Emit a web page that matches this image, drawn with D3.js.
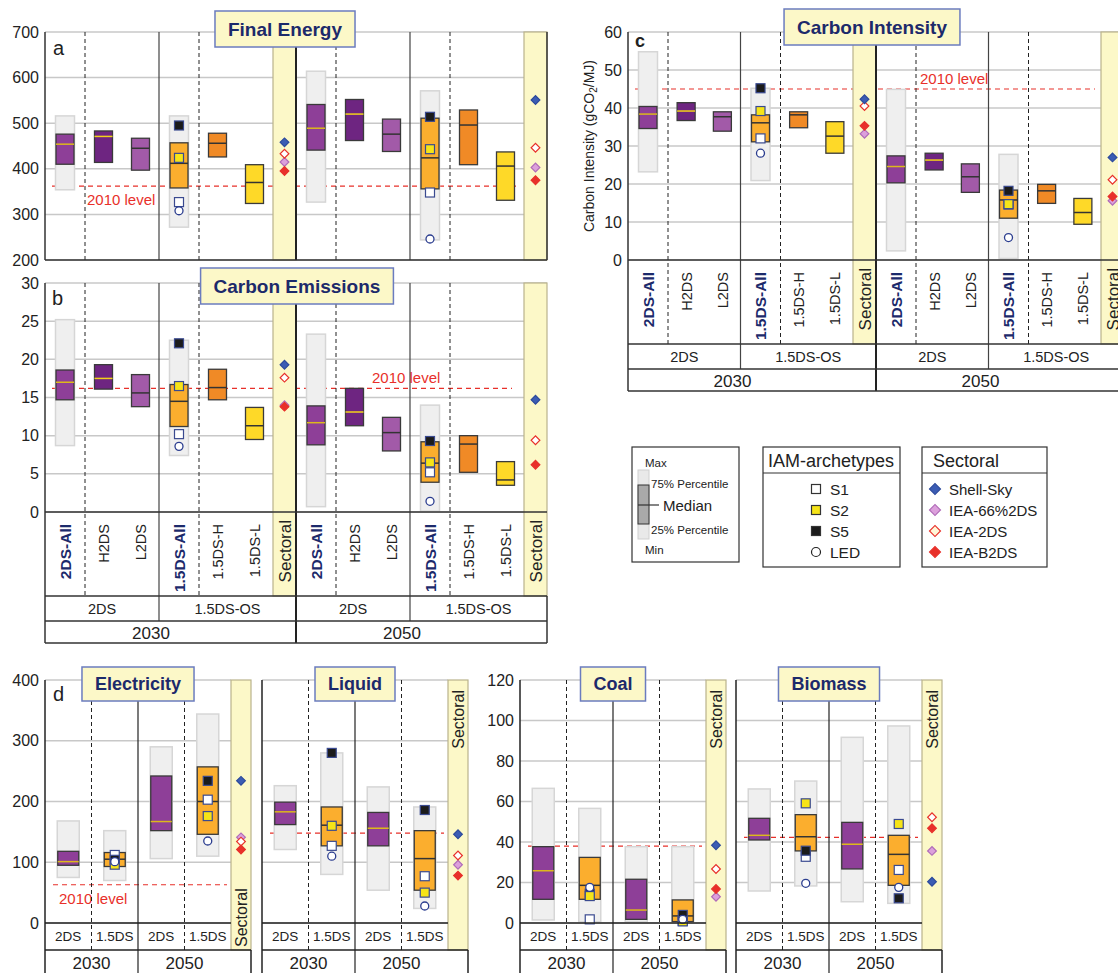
<!DOCTYPE html>
<html>
<head>
<meta charset="utf-8">
<script src="https://cdn.jsdelivr.net/npm/d3@7"></script>
<style>
body { margin: 0; background: #fff; }
svg text { font-family: "Liberation Sans", Arial, sans-serif; fill: #222; }
</style>
</head>
<body>
<svg id="chart" width="1118" height="973"></svg>
<script>
// ---- data ----
var scenarios = ["2DS-All", "H2DS", "L2DS", "1.5DS-All", "1.5DS-H", "1.5DS-L"];
var groups = ["2DS", "1.5DS-OS"];
var years = ["2030", "2050"];
var archetypes = ["S1", "S2", "S5", "LED"];
var sectorals = ["Shell-Sky", "IEA-66%2DS", "IEA-2DS", "IEA-B2DS"];
var fuelCols = ["2DS", "1.5DS"];

// rows: [min, 25%, median, 75%, max] (null = no range shown)
var energy2030 = [[354, 410, 454, 476, 516], [null, 414, 471, 483, null], [null, 397, 445, 467, null],
                  [272, 358, 412, 457, 516], [null, 426, 456, 478, null], [null, 324, 370, 409, null]];
var energy2050 = [[327, 441, 489, 541, 614], [null, 462, 520, 552, null], [null, 438, 476, 509, null],
                  [244, 356, 424, 511, 571], [null, 409, 496, 529, null], [null, 331, 406, 437, null]];
var energyArch = [[327, 424, 495, 308], [348, 443, 514, 246]];   // S1, S2, S5, LED
var energySect = [[458, 415, 433, 395], [551, 403, 446, 375]];   // Shell, 66%2DS, 2DS, B2DS
var energyLevel = 362;

var emis2030 = [[8.7, 14.7, 17.0, 18.6, 25.2], [null, 16.1, 17.5, 19.3, null], [null, 13.8, 15.6, 18.0, null],
                [7.4, 11.2, 14.5, 16.7, 22.5], [null, 14.7, 16.3, 18.7, null], [null, 9.5, 11.3, 13.7, null]];
var emis2050 = [[0.7, 8.8, 11.7, 13.9, 23.3], [null, 11.3, 13.1, 16.2, null], [null, 8.0, 10.4, 12.4, null],
                [0.1, 3.9, 6.4, 9.2, 14.0], [null, 5.2, 8.9, 10.0, null], [null, 3.5, 4.2, 6.6, null]];
var emisArch = [[10.2, 16.5, 22.1, 8.6], [5.2, 6.5, 9.3, 1.4]];
var emisSect = [[19.3, 14.0, 17.6, 13.8], [14.7, null, 9.4, 6.2]];
var emisLevel = 16.2;

var int2030 = [[23.2, 34.6, 38.4, 40.4, 54.8], [null, 36.7, 39.2, 41.4, null], [null, 33.9, 37.7, 39.0, null],
               [20.9, 31.1, 36.1, 38.2, 45.2], [null, 34.8, 38.2, 39.0, null], [null, 28.1, 32.6, 36.4, null]];
var int2050 = [[2.4, 20.3, 24.6, 27.4, 44.9], [null, 23.7, 26.3, 28.1, null], [null, 17.8, 21.9, 25.3, null],
               [0.4, 11.0, 15.8, 18.4, 27.8], [null, 14.9, 18.2, 19.9, null], [null, 9.4, 12.5, 16.2, null]];
var intArch = [[32.0, 39.2, 45.2, 28.1], [14.6, 14.7, 18.2, 5.9]];
var intSect = [[42.3, 33.2, 40.5, 35.3], [27.0, 15.6, 21.1, 16.7]];
var intLevel = 45;

// panel d: per year [2DS, 1.5DS]
var elecStats = [[[75, 95, 101, 118, 168], [70, 93, 105, 116, 152]], [[106, 152, 167, 242, 290], [110, 146, 200, 257, 344]]];
var elecArch = [[112, 96, 104, 101], [203, 176, 234, 135]];
var elecSect = [234, 141, 134, 121];
var elecLevel = 63;

var liqStats = [[[121, 162, 183, 199, 226], [80, 127, 161, 191, 280]], [[54, 127, 156, 182, 224], [24, 54, 106, 152, 191]]];
var liqArch = [[127, 160, 280, 110], [77, 50, 186, 28]];
var liqSect = [146, 96, 111, 78];
var liqLevel = 148;

var coalStats = [[[1.5, 11.7, 25.8, 37.7, 66.5], [0.5, 11.7, 18.6, 32.4, 56.6]], [[0.5, 1.8, 6.4, 21.6, 37.7], [0, 0.7, 3.5, 11.4, 37.7]]];
var coalArch = [[1.8, 13.3, 14.5, 17.6], [1.0, 0.8, 4.0, 1.8]];
var coalSect = [38.4, 13, 26.7, 16.8];
var coalLevel = 38;

var bioStats = [[[15.8, 41, 43.3, 51.7, 66.2], [18.3, 35.6, 42.6, 53.5, 70.1]], [[10.5, 26.7, 38.9, 49.7, 91.7], [9.7, 18.6, 33.9, 43.3, 97.3]]];
var bioArch = [[32.7, 59.1, 35.7, 19.6], [26.2, 48.9, 12.2, 17.6]];
var bioSect = [20.4, 35.6, 52.2, 46.8];
var bioLevel = 42.3;

// ---- styles ----
var NAVY = "#1c2a6b";
var RED = "#e8302a";
var YEL = "#dcb81c";
var SECT_W = 23, ALL_W = 40, FUEL_W = 186, SECT_D = 20;

var scenarioFill = d3.scaleOrdinal().domain(scenarios)
    .range(["#8e3f98", "#6e2581", "#a25aa8", "#fbae2e", "#f08a26", "#fed928"]);
var medianStroke = d3.scaleOrdinal().domain(scenarios)
    .range([YEL, "#f2d21a", "#333", "#333", "#333", "#333"]);
var archFill = d3.scaleOrdinal().domain(archetypes).range(["#fff", "#f6e418", "#1b1b1b", "#fff"]);
var sectFill = d3.scaleOrdinal().domain(sectorals).range(["#3b5cb4", "#dca0dc", "#fff", RED]);
var sectStroke = d3.scaleOrdinal().domain(sectorals).range(["#2c4a9c", "#b06cb8", RED, RED]);

var svg = d3.select("#chart");

function vline(g, x, y1, y2, color, w, dash) {
    var l = g.append("line").attr("x1", x).attr("x2", x).attr("y1", y1).attr("y2", y2)
        .attr("stroke", color).attr("stroke-width", w);
    if (dash) l.attr("stroke-dasharray", dash);
    return l;
}
function hline(g, y, x1, x2, color, w, dash) {
    var l = g.append("line").attr("x1", x1).attr("x2", x2).attr("y1", y).attr("y2", y)
        .attr("stroke", color).attr("stroke-width", w);
    if (dash) l.attr("stroke-dasharray", dash);
    return l;
}

function drawBox(g, y, cx, w, d, fill, med) {
    if (d[0] != null) {
        g.append("rect").attr("x", cx - w / 2 - 0.5).attr("width", w + 1)
            .attr("y", y(d[4])).attr("height", y(d[0]) - y(d[4]))
            .attr("fill", "#efefef").attr("stroke", "#d6d6d6").attr("stroke-width", 1.5);
    }
    g.append("rect").attr("x", cx - w / 2).attr("width", w)
        .attr("y", y(d[3])).attr("height", y(d[1]) - y(d[3]))
        .attr("fill", fill).attr("stroke", "#3a3a3a").attr("stroke-width", 1.3);
    hline(g, y(d[2]), cx - w / 2, cx + w / 2, med, 1.5);
}

function drawArch(g, y, cx, vals) {
    // S1, S5, S2, LED so the circles sit on top
    [0, 2, 1, 3].forEach(function(i) {
        var a = archetypes[i];
        if (a == "LED") {
            g.append("circle").attr("cx", cx).attr("cy", y(vals[i])).attr("r", 4)
                .attr("fill", "#fff").attr("stroke", "#2b3d8f").attr("stroke-width", 1.3);
        } else {
            g.append("rect").attr("x", cx - 4.5).attr("y", y(vals[i]) - 4.5).attr("width", 9).attr("height", 9)
                .attr("fill", archFill(a)).attr("stroke", "#3a4a90").attr("stroke-width", 1.2);
        }
    });
}

var diamond = d3.symbol().type(d3.symbolSquare).size(38);
function drawDiamond(g, x, y, name) {
    g.append("path").attr("d", diamond)
        .attr("transform", "translate(" + x + "," + y + ") rotate(45)")
        .attr("fill", sectFill(name)).attr("stroke", sectStroke(name)).attr("stroke-width", 1.2);
}
function drawSect(g, y, cx, vals) {
    [1, 2, 3, 0].forEach(function(i) {
        if (vals[i] != null) drawDiamond(g, cx, y(vals[i]), sectorals[i]);
    });
}

function titleBox(g, label, cx, top, h, size) {
    var r = g.append("rect");
    var t = g.append("text").attr("x", cx).attr("y", top + h / 2 + size * 0.36)
        .attr("text-anchor", "middle").style("font-size", size + "px").style("font-weight", "bold")
        .style("fill", NAVY).text(label);
    var w = t.node().getComputedTextLength() + 26;
    r.attr("x", cx - w / 2).attr("y", top).attr("width", w).attr("height", h)
        .attr("fill", "#fcf8c8").attr("stroke", "#6b7cbf").attr("stroke-width", 1.5);
}

function yAxis(g, y, x, ticks) {
    var ax = g.append("g").attr("transform", "translate(" + x + ",0)")
        .call(d3.axisLeft(y).tickValues(ticks).tickSize(0).tickPadding(6));
    ax.select(".domain").remove();
    ax.selectAll("text").style("font-size", "16px").style("fill", "#222")
        .style("font-family", "'Liberation Sans', Arial, sans-serif");
}

function blockLayout(x0, x1) {
    var gx = d3.scaleBand().domain(groups).range([x0, x1 - SECT_W]);
    var cols = {}, dashes = [];
    groups.forEach(function(gr, gi) {
        var start = gx(gr);
        var sub = d3.scaleBand().domain(scenarios.slice(gi * 3 + 1, gi * 3 + 3))
            .range([start + ALL_W, start + gx.bandwidth()]);
        cols[scenarios[gi * 3]] = start + ALL_W / 2;
        sub.domain().forEach(function(s) { cols[s] = sub(s) + sub.bandwidth() / 2; });
        dashes.push(start + ALL_W);
    });
    return { x0: x0, x1: x1, gx: gx, cols: cols, dashes: dashes, sect: x1 - SECT_W };
}

function mainPanel(p) {
    var g = svg.append("g");
    var y = p.y, top = y.range()[1], bot = y.range()[0];
    var yearX = d3.scaleBand().domain(years).range([p.x0, p.x1]);
    var blocks = years.map(function(yr) { return blockLayout(yearX(yr), yearX(yr) + yearX.bandwidth()); });
    var labBot = bot + 84, grpBot = labBot + 25, yrBot = grpBot + 22;
    var lineBot = p.labels ? labBot : bot;
    var frameBot = p.labels ? yrBot : bot;

    g.append("g").selectAll("line").data(p.ticks).join("line")
        .attr("x1", p.x0).attr("x2", p.x1)
        .attr("y1", function(d) { return y(d); }).attr("y2", function(d) { return y(d); })
        .attr("stroke", "#c8c8c8").attr("stroke-width", 1.5);

    hline(g, y(p.level), p.x0 + 7, p.levelEnd, RED, 1.2, "5,4");

    blocks.forEach(function(b, yi) {
        b.dashes.forEach(function(dx) { vline(g, dx, top, lineBot, "#222", 1, "4,3"); });
        vline(g, b.gx("1.5DS-OS"), top, p.labels ? grpBot : bot, "#444", 1.2);
        scenarios.forEach(function(s, i) {
            drawBox(g, y, b.cols[s], 18, p.stats[yi][i], scenarioFill(s), medianStroke(s));
        });
        drawArch(g, y, b.cols["1.5DS-All"], p.arch[yi]);

        g.append("rect").attr("x", b.sect).attr("y", top).attr("width", SECT_W).attr("height", lineBot - top)
            .attr("fill", "#fcf8c8").attr("stroke", "#b9b38c").attr("stroke-width", 1.2);
        drawSect(g, y, b.sect + SECT_W / 2, p.sect[yi]);

        if (p.labels) {
            scenarios.forEach(function(s) {
                var bold = s.indexOf("All") > 0;
                g.append("text")
                    .attr("transform", "translate(" + (b.cols[s] + 5.5) + "," + (bot + 12) + ") rotate(-90)")
                    .attr("text-anchor", "end")
                    .style("font-size", bold ? "15.5px" : "14.5px")
                    .style("font-weight", bold ? "bold" : "normal")
                    .style("fill", bold ? NAVY : "#222")
                    .text(s);
            });
            g.append("text")
                .attr("transform", "translate(" + (b.sect + SECT_W / 2 + 6) + "," + (bot + 8) + ") rotate(-90)")
                .attr("text-anchor", "end").style("font-size", "17px").text("Sectoral");
            groups.forEach(function(gr, gi) {
                var gs = b.gx(gr), ge = gi == 0 ? gs + b.gx.bandwidth() : b.x1;
                g.append("text").attr("x", (gs + ge) / 2).attr("y", labBot + 18)
                    .attr("text-anchor", "middle").style("font-size", "14.5px").text(gr);
            });
            g.append("text").attr("x", (b.x0 + b.sect) / 2 - 8).attr("y", grpBot + 18)
                .attr("text-anchor", "middle").style("font-size", "17px").text(years[yi]);
        }
    });

    // label of the 2010 line goes on top of the separators
    g.append("text").attr("x", p.levelText[0]).attr("y", y(p.level) + p.levelText[1])
        .style("fill", RED).style("font-size", "15px").text("2010 level");

    // frame
    vline(g, p.x0, top, frameBot, "#333", 1.5);
    vline(g, blocks[1].x0, top, frameBot, "#222", 2);
    vline(g, p.x1, p.labels ? labBot : top, frameBot, "#333", 1.5);
    hline(g, bot, p.x0, p.x1, "#333", 1.5);
    if (p.labels) {
        hline(g, labBot, p.x0, p.x1, "#333", 1.5);
        hline(g, grpBot, p.x0, p.x1, "#333", 1.5);
        hline(g, yrBot, p.x0, p.x1, "#333", 1.5);
    }

    yAxis(g, y, p.x0, p.ticks);
    g.append("text").attr("x", p.letter[1]).attr("y", p.letter[2])
        .style("font-size", p.letter[3] + "px").style("font-weight", p.letter[4] || "normal").text(p.letter[0]);
    titleBox(g, p.title, p.titleX, p.titleY, 36, 19);
}

function fuelPanel(p) {
    var g = svg.append("g");
    var y = p.y, top = y.range()[1], bot = y.range()[0];
    var labBot = bot + 27, yrBot = labBot + 23;
    var yearX = d3.scaleBand().domain(years).range([p.x0, p.x0 + FUEL_W]);
    var sect = p.x0 + FUEL_W;

    g.append("g").selectAll("line").data(p.ticks).join("line")
        .attr("x1", p.x0).attr("x2", sect)
        .attr("y1", function(d) { return y(d); }).attr("y2", function(d) { return y(d); })
        .attr("stroke", "#c8c8c8").attr("stroke-width", 1.5);

    hline(g, y(p.level), p.x0 + 8, sect - 4, RED, 1.2, "5,4");
    if (p.levelText) {
        g.append("text").attr("x", p.x0 + p.levelText[0]).attr("y", y(p.level) + p.levelText[1])
            .style("fill", RED).style("font-size", "15px").text("2010 level");
    }

    years.forEach(function(yr, yi) {
        var colX = d3.scaleBand().domain(fuelCols).range([yearX(yr), yearX(yr) + yearX.bandwidth()]);
        vline(g, colX("1.5DS"), top, labBot, "#222", 1, "4,3");
        fuelCols.forEach(function(c, ci) {
            var cx = colX(c) + colX.bandwidth() / 2;
            drawBox(g, y, cx, 21, p.stats[yi][ci], c == "2DS" ? "#8e3f98" : "#fbae2e", c == "2DS" ? YEL : "#333");
            g.append("text").attr("x", cx).attr("y", bot + 18).attr("text-anchor", "middle")
                .style("font-size", "13.5px").text(c);
        });
        drawArch(g, y, colX("1.5DS") + colX.bandwidth() / 2, p.arch[yi]);
        g.append("text").attr("x", yearX(yr) + yearX.bandwidth() / 2).attr("y", labBot + 19)
            .attr("text-anchor", "middle").style("font-size", "17px").text(yr);
    });
    vline(g, yearX("2050"), top, yrBot, "#222", 1.2);

    g.append("rect").attr("x", sect).attr("y", top).attr("width", SECT_D).attr("height", labBot - top)
        .attr("fill", "#fcf8c8").attr("stroke", "#b9b38c").attr("stroke-width", 1.2);
    drawSect(g, y, sect + SECT_D / 2, p.sect);
    if (p.sectBottom) {
        g.append("text").attr("transform", "translate(" + (sect + SECT_D / 2 + 6) + "," + (labBot - 3) + ") rotate(-90)")
            .attr("text-anchor", "start").style("font-size", "16px").text("Sectoral");
    } else {
        g.append("text").attr("transform", "translate(" + (sect + SECT_D / 2 + 6) + "," + (top + 10) + ") rotate(-90)")
            .attr("text-anchor", "end").style("font-size", "16px").text("Sectoral");
    }

    vline(g, p.x0, top, yrBot, "#222", 1.5);
    hline(g, bot, p.x0, sect, "#222", 1.5);
    hline(g, labBot, p.x0, sect + SECT_D, "#222", 1.5);
    vline(g, sect + SECT_D, labBot, yrBot, "#222", 1.5);

    if (p.axis) yAxis(g, y, p.x0, p.ticks);
    if (p.letter) {
        g.append("text").attr("x", p.x0 + 8).attr("y", top + 21).style("font-size", "20px").text(p.letter);
    }
    titleBox(g, p.title, yearX("2050"), top - 13, 34, 18);
}

// ---- panels a, b, c ----
mainPanel({
    y: d3.scaleLinear().domain([200, 700]).range([260, 32]), ticks: d3.range(200, 701, 100),
    x0: 45, x1: 547, stats: [energy2030, energy2050], arch: energyArch, sect: energySect,
    level: energyLevel, levelEnd: 520, levelText: [87, 19], labels: false,
    letter: ["a", 53, 55, 20], title: "Final Energy", titleX: 285, titleY: 11
});
mainPanel({
    y: d3.scaleLinear().domain([0, 30]).range([512, 283]), ticks: d3.range(0, 31, 5),
    x0: 45, x1: 547, stats: [emis2030, emis2050], arch: emisArch, sect: emisSect,
    level: emisLevel, levelEnd: 512, levelText: [372, -5], labels: true,
    letter: ["b", 52, 305, 20], title: "Carbon Emissions", titleX: 297, titleY: 268
});
mainPanel({
    y: d3.scaleLinear().domain([0, 60]).range([260, 32]), ticks: d3.range(0, 61, 10),
    x0: 628, x1: 1124, stats: [int2030, int2050], arch: intArch, sect: intSect,
    level: intLevel, levelEnd: 1095, levelText: [920, -5], labels: true,
    letter: ["c", 635, 47, 18, "bold"], title: "Carbon Intensity", titleX: 872, titleY: 9
});
svg.append("text")
    .attr("transform", "translate(594,146) rotate(-90)").attr("text-anchor", "middle")
    .style("font-size", "14px")
    .html("Carbon Intensity (gCO<tspan dy='3' font-size='10px'>2</tspan><tspan dy='-3'>/MJ)</tspan>");

// ---- panel d ----
var yElec = d3.scaleLinear().domain([0, 400]).range([923, 680]);
var yCoal = d3.scaleLinear().domain([0, 120]).range([923, 680]);
fuelPanel({ y: yElec, ticks: d3.range(0, 401, 100), x0: 45, axis: true, letter: "d",
    stats: elecStats, arch: elecArch, sect: elecSect, level: elecLevel, levelText: [14, 19],
    sectBottom: true, title: "Electricity" });
fuelPanel({ y: yElec, ticks: d3.range(0, 401, 100), x0: 262, axis: false,
    stats: liqStats, arch: liqArch, sect: liqSect, level: liqLevel, title: "Liquid" });
fuelPanel({ y: yCoal, ticks: d3.range(0, 121, 20), x0: 520, axis: true,
    stats: coalStats, arch: coalArch, sect: coalSect, level: coalLevel, title: "Coal" });
fuelPanel({ y: yCoal, ticks: d3.range(0, 121, 20), x0: 736, axis: false,
    stats: bioStats, arch: bioArch, sect: bioSect, level: bioLevel, title: "Biomass" });

// ---- legends ----
var lg = svg.append("g");
lg.append("rect").attr("x", 632).attr("y", 447).attr("width", 107).attr("height", 115)
    .attr("fill", "#fff").attr("stroke", "#333").attr("stroke-width", 1.2);
lg.append("rect").attr("x", 638).attr("y", 470).attr("width", 11).attr("height", 69)
    .attr("fill", "#e9e9e9").attr("stroke", "#cfcfcf");
lg.append("rect").attr("x", 638).attr("y", 485).attr("width", 11).attr("height", 39)
    .attr("fill", "#a9a9a9").attr("stroke", "#333");
hline(lg, 505, 638, 659, "#333", 1.2);
[["Max", 645, 467], ["75% Percentile", 651, 488], ["25% Percentile", 651, 534], ["Min", 645, 554]].forEach(function(t) {
    lg.append("text").attr("x", t[1]).attr("y", t[2]).style("font-size", "11.5px").text(t[0]);
});
lg.append("text").attr("x", 663).attr("y", 511).style("font-size", "15px").text("Median");

lg.append("rect").attr("x", 763).attr("y", 447).attr("width", 137).attr("height", 120)
    .attr("fill", "#fff").attr("stroke", "#333").attr("stroke-width", 1.2);
hline(lg, 473, 763, 900, "#333", 1.2);
lg.append("text").attr("x", 831).attr("y", 467).attr("text-anchor", "middle").style("font-size", "18px").text("IAM-archetypes");
var legY = d3.scalePoint().domain(archetypes).range([489, 552]);
archetypes.forEach(function(a) {
    if (a == "LED") {
        lg.append("circle").attr("cx", 816).attr("cy", legY(a)).attr("r", 4.5)
            .attr("fill", "#fff").attr("stroke", "#222").attr("stroke-width", 1.2);
    } else {
        lg.append("rect").attr("x", 811.5).attr("y", legY(a) - 4.5).attr("width", 9).attr("height", 9)
            .attr("fill", archFill(a)).attr("stroke", "#333").attr("stroke-width", 1.2);
    }
    lg.append("text").attr("x", 830).attr("y", legY(a) + 6).style("font-size", "15.5px").text(a);
});

lg.append("rect").attr("x", 922).attr("y", 447).attr("width", 125).attr("height", 120)
    .attr("fill", "#fff").attr("stroke", "#333").attr("stroke-width", 1.2);
hline(lg, 473, 922, 1047, "#333", 1.2);
lg.append("text").attr("x", 933).attr("y", 467).style("font-size", "18px").text("Sectoral");
var sectY = d3.scalePoint().domain(sectorals).range([489, 552]);
sectorals.forEach(function(s) {
    lg.append("path").attr("d", d3.symbol().type(d3.symbolSquare).size(60))
        .attr("transform", "translate(935," + sectY(s) + ") rotate(45)")
        .attr("fill", s == "IEA-2DS" ? "#fff6d8" : sectFill(s)).attr("stroke", sectStroke(s)).attr("stroke-width", 1.2);
    lg.append("text").attr("x", 949).attr("y", sectY(s) + 6).style("font-size", "15px").text(s);
});
</script>
</body>
</html>
